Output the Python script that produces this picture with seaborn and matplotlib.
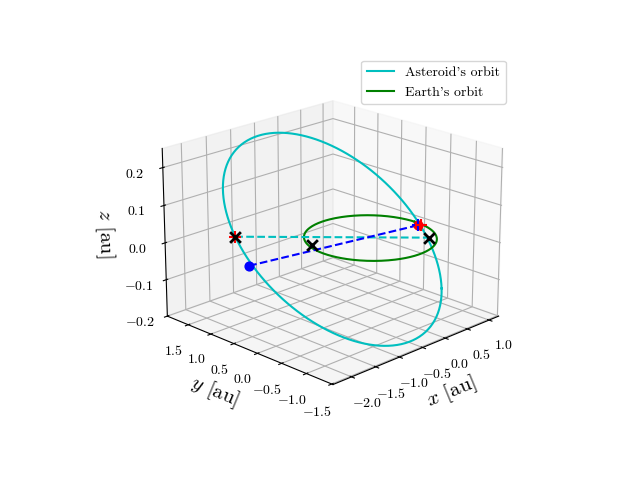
import numpy as np
import matplotlib
matplotlib.use("Agg")
import matplotlib.pyplot as plt
import seaborn as sns

plt.rcParams.update({
    "font.family": "serif",
    "font.serif": ["cmr10"],
    "mathtext.fontset": "cm",
    "axes.formatter.use_mathtext": True,
    "axes.unicode_minus": True,
})

# asteroid orbit, described in the rotated frame s=(x-y)/sqrt2, d=(x+y)/sqrt2
ast_s0 = -0.59      # centre along s
ast_sa = 1.64       # s amplitude
ast_dc = -0.52      # d amplitude (cos)
ast_ds = 0.97       # d amplitude (sin)
ast_slope = 0.2     # z = slope * d
earth_r = 1.0

# marked positions (x, y, z)
node_pts = np.array([[-1.44, 1.44, 0.0], [0.62, -0.62, 0.0]])
mid_x = [-0.88, 0.37, 0.0]
earth_pos = [0.92, -0.14, 0.0]
ast_pos = [-1.50, 1.08, -0.06]


def asteroid_orbit(n=400):
    t = np.linspace(0, 2 * np.pi, n)
    s = ast_s0 + ast_sa * np.cos(t)
    d = ast_dc * np.cos(t) + ast_ds * np.sin(t)
    return (s + d) / np.sqrt(2), (d - s) / np.sqrt(2), ast_slope * d


fig = plt.figure(figsize=(6.4, 4.8), dpi=100)
fig.subplots_adjust(bottom=0.118, top=0.888)
ax = fig.add_subplot(projection="3d")

pal = sns.color_palette(["c", "g"])
ax.plot(*asteroid_orbit(), color=pal[0], label="Asteroid's orbit")
t = np.linspace(0, 2 * np.pi, 300)
ax.plot(earth_r * np.cos(t), earth_r * np.sin(t), 0 * t, color=pal[1], label="Earth's orbit")

ax.plot(node_pts[:, 0], node_pts[:, 1], node_pts[:, 2], "c--")
ax.plot([ast_pos[0], earth_pos[0]], [ast_pos[1], earth_pos[1]], [ast_pos[2], earth_pos[2]], "b--")
ax.scatter(*earth_pos, color="r", s=40, depthshade=False)
ax.scatter(*ast_pos, color="b", s=40, depthshade=False)
ax.scatter(earth_pos[0] + 0.03, earth_pos[1] - 0.04, 0, color="r", marker="+", s=80, depthshade=False)
ax.scatter(*earth_pos, color="b", marker="+", s=80, depthshade=False)
ax.scatter(node_pts[0, 0], node_pts[0, 1], 0, color="r", marker="+", s=80, depthshade=False)
ax.scatter(node_pts[:, 0], node_pts[:, 1], node_pts[:, 2], color="k", marker="x", s=60,
           linewidths=2, depthshade=False)
ax.scatter(*mid_x, color="k", marker="x", s=60, linewidths=2, depthshade=False)

ax.set_xlim(-2.375, 1.225)
ax.set_ylim(-1.525, 1.975)
ax.set_zlim(-0.2, 0.25)
ax.set_xticks([-2.0, -1.5, -1.0, -0.5, 0.0, 0.5, 1.0])
ax.set_yticks([-1.5, -1.0, -0.5, 0.0, 0.5, 1.0, 1.5])
ax.set_zticks([-0.2, -0.1, 0.0, 0.1, 0.2])
ax.set_xlabel(r"$x$ [au]", fontsize=15)
ax.set_ylabel(r"$y$ [au]", fontsize=15)
ax.set_zlabel(r"$z$ [au]", fontsize=15)
ax.view_init(elev=20, azim=-135)
ax.legend(loc="upper right", fontsize=10)

fig.savefig("out.png", dpi=100)
